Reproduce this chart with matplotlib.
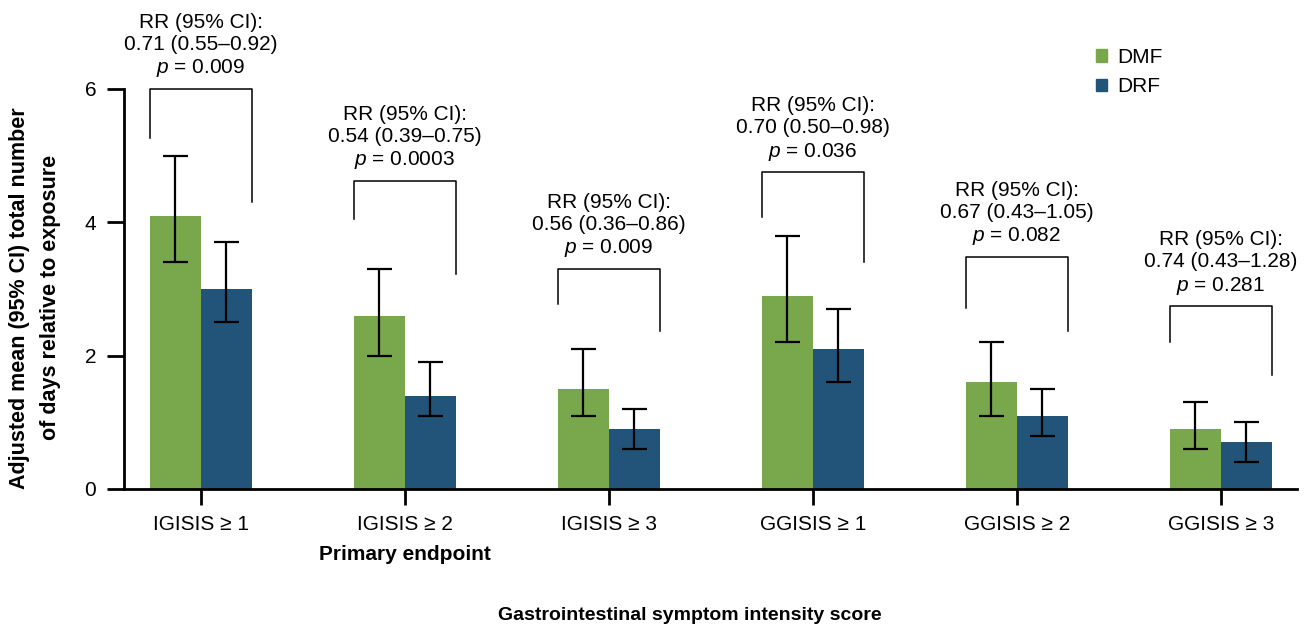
import matplotlib
matplotlib.use("Agg")
import matplotlib.pyplot as plt
import numpy as np
from matplotlib.patches import Patch

plt.rcParams['font.family'] = ['Liberation Sans', 'DejaVu Sans']
plt.rcParams['mathtext.fontset'] = 'custom'
plt.rcParams['mathtext.rm'] = 'Liberation Sans'
plt.rcParams['mathtext.it'] = 'Liberation Sans:italic'

categories = ['IGISIS \u2265 1', 'IGISIS \u2265 2', 'IGISIS \u2265 3',
              'GGISIS \u2265 1', 'GGISIS \u2265 2', 'GGISIS \u2265 3']
dmf = [4.1, 2.6, 1.5, 2.9, 1.6, 0.9]
dmf_lo = [3.4, 2.0, 1.1, 2.2, 1.1, 0.6]
dmf_hi = [5.0, 3.3, 2.1, 3.8, 2.2, 1.3]
drf = [3.0, 1.4, 0.9, 2.1, 1.1, 0.7]
drf_lo = [2.5, 1.1, 0.6, 1.6, 0.8, 0.4]
drf_hi = [3.7, 1.9, 1.2, 2.7, 1.5, 1.0]

rr = ['0.71 (0.55\u20130.92)', '0.54 (0.39\u20130.75)', '0.56 (0.36\u20130.86)',
      '0.70 (0.50\u20130.98)', '0.67 (0.43\u20131.05)', '0.74 (0.43\u20131.28)']
pvals = ['0.009', '0.0003', '0.009', '0.036', '0.082', '0.281']

# bracket heights (top, left leg end, right leg end)
br_top = [6.0, 4.62, 3.30, 4.75, 3.48, 2.74]
br_left = [5.26, 4.05, 2.77, 4.08, 2.71, 2.20]
br_right = [4.30, 3.22, 2.37, 3.40, 2.37, 1.71]

green = '#79a74c'
blue = '#215478'

fig = plt.figure(figsize=(13.11, 6.27), dpi=100)
ax = fig.add_axes([124 / 1311, 1 - 489 / 627, (1297 - 124) / 1311, 400 / 627])

x = np.arange(len(categories))
w = 0.25
ax.bar(x - w / 2, dmf, w, color=green, label='DMF')
ax.bar(x + w / 2, drf, w, color=blue, label='DRF')

dmf_err = [np.array(dmf) - np.array(dmf_lo), np.array(dmf_hi) - np.array(dmf)]
drf_err = [np.array(drf) - np.array(drf_lo), np.array(drf_hi) - np.array(drf)]
ax.errorbar(x - w / 2, dmf, yerr=dmf_err, fmt='none', ecolor='black',
            elinewidth=1.6, capsize=9, capthick=1.6)
ax.errorbar(x + w / 2, drf, yerr=drf_err, fmt='none', ecolor='black',
            elinewidth=1.6, capsize=9, capthick=1.6)

for i in range(len(categories)):
    xl, xr = x[i] - w, x[i] + w
    ax.plot([xl, xl, xr, xr], [br_left[i], br_top[i], br_top[i], br_right[i]],
            color='black', lw=1.1, clip_on=False)
    ax.annotate('RR (95% CI):\n' + rr[i] + '\n$p$ = ' + pvals[i],
                xy=(x[i], br_top[i]), xytext=(0, 7), textcoords='offset points',
                ha='center', va='bottom', fontsize=15, linespacing=1.2,
                annotation_clip=False)

ax.set_xlim(-0.377, 5.373)
ax.set_ylim(0, 6)
ax.set_yticks([0, 2, 4, 6])
ax.set_xticks(x)
ax.set_xticklabels(categories)
for s in ['top', 'right']:
    ax.spines[s].set_visible(False)
ax.spines['left'].set_linewidth(2)
ax.spines['bottom'].set_linewidth(2)
ax.tick_params(axis='y', length=12, width=2, labelsize=15, pad=8)
ax.tick_params(axis='x', length=11.5, width=2, labelsize=15, pad=7)

fig.text(20 / 1311, 0.525, 'Adjusted mean (95% CI) total number',
         rotation=90, ha='center', va='center', fontsize=15.5, fontweight='bold')
fig.text(51 / 1311, 0.525, 'of days relative to exposure',
         rotation=90, ha='center', va='center', fontsize=15.5, fontweight='bold')
ax.text(1, -0.165, 'Primary endpoint', transform=ax.get_xaxis_transform(),
        ha='center', va='center', fontsize=15, fontweight='bold')
fig.text(690 / 1311, 1 - 615 / 627, 'Gastrointestinal symptom intensity score',
         ha='center', va='center', fontsize=14, fontweight='bold')

handles = [Patch(color=green, label='DMF'), Patch(color=blue, label='DRF')]
fig.legend(handles=handles, loc='upper left', bbox_to_anchor=(1096 / 1311, 1 - 48 / 627),
           frameon=False, fontsize=15, handlelength=0.55, handleheight=0.55,
           handletextpad=0.45, labelspacing=0.5, borderpad=0, borderaxespad=0)

fig.savefig('out.png', dpi=100)
